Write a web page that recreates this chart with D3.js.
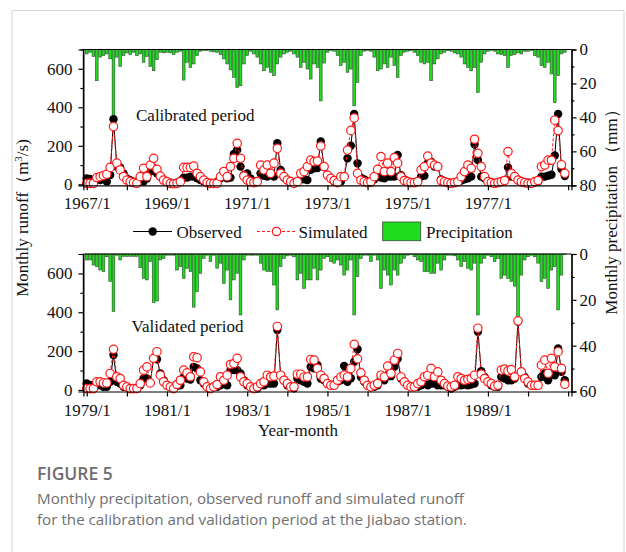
<!DOCTYPE html>
<html>
<head>
<meta charset="utf-8">
<script src="https://cdn.jsdelivr.net/npm/d3@7"></script>
<style>
body{margin:0;background:#fff;}
svg{display:block;}
</style>
</head>
<body>
<script>
// month index 0 = Jan of first year, 144 months per panel
var xLabels1 = ["1967/1","1969/1","1971/1","1973/1","1975/1","1977/1"];
var xLabels2 = ["1979/1","1981/1","1983/1","1985/1","1987/1","1989/1"];

var precip1 = [2.6,1.6,4,18.4,4.5,3.6,2.6,5.5,40,4.5,10,3.6,
  2,3,1.6,3.6,2.6,7.5,4,10,12.5,6,1.6,2,
  1.6,2,3,1.6,1,18,7.5,10.5,8.5,3.6,1,0.6,
  0.6,1,1.4,1.6,3,5.5,8.5,12,16.4,22.4,21.4,8.5,
  3.6,1,2.6,4.5,8.5,12.5,10.5,13.4,15.4,8.5,4.5,2.6,
  1.6,1,2.6,4.5,10.5,7.5,11.5,17.4,8.5,10.5,30.3,8,
  1.6,0.6,1,3.6,9.5,7.5,13.4,11.5,33.2,19.4,3.6,1,
  0.6,1,4.5,12.5,11.5,8.5,10.5,4.5,9.5,16.4,3.6,1.6,
  1,0.6,1.6,3.6,7.5,8.5,7.5,18.4,8.5,5.5,2.6,1.6,
  0.6,1,2,2.6,4.5,8.5,10.5,12.5,10.5,25.3,7.5,2.6,
  1,0.6,1,2.6,3,3.6,10.5,3.6,3,2,2.6,1,
  1,0.6,3.6,4.5,9.5,10.5,7.5,14.4,31.3,15.4,2.6,1.6];

var obs1 = [31,28,14,31,22,31,14,48,338,92,88,57,
  31,22,14,9,30,15,30,66,83,57,40,22,
  14,9,5,9,19,35,35,40,40,31,22,14,
  9,5,5,12,31,40,31,35,158,178,92,48,
  57,31,14,14,57,45,40,57,40,213,75,35,
  22,14,9,14,26,26,22,75,83,85,222,90,
  48,31,14,9,14,40,135,200,365,109,35,26,
  14,9,26,48,35,31,40,40,40,152,48,26,
  14,9,9,14,40,45,109,118,92,92,26,14,
  9,5,9,14,20,26,31,40,208,126,40,31,
  14,9,5,9,14,20,88,40,40,22,14,9,
  9,5,9,14,40,40,45,50,150,365,80,43];

var sim1 = [5,5,5,35,40,45,52,88,300,110,75,40,
  22,14,9,5,40,83,40,100,135,78,43,22,
  14,5,3,5,14,88,88,88,95,57,40,22,
  9,5,5,5,40,66,40,92,135,213,135,43,
  22,14,9,14,100,75,100,57,110,187,57,40,
  22,14,5,14,57,66,92,126,118,121,199,92,
  48,31,20,9,40,40,178,280,345,57,22,14,
  9,14,40,78,144,66,110,66,139,110,40,20,
  14,9,9,14,75,92,147,110,100,92,20,14,
  9,5,9,14,40,66,100,83,234,161,92,40,
  14,9,5,9,14,20,170,57,40,22,14,9,
  5,5,14,20,92,100,126,125,333,279,102,57];

var precip2 = [2.6,2.6,4.8,5.5,7,7.7,1.2,12,25.1,0.5,2.6,1,
  1,1,1,1,6,10.6,11.3,3.3,21.2,20.5,2.6,1.9,
  0.5,0.5,0.5,7,5.5,10.6,6.2,7.7,23.2,16.4,8.4,1.9,
  0.5,3.3,0.5,6.2,4,12.8,7,20,11.3,8.4,26.6,2.6,
  0.5,0.5,0.5,0.5,4,7,7.7,7.7,13.5,24.4,5.5,1.9,
  0.8,0.5,1.2,11.3,8.4,15,11.3,11.3,6.2,11.3,7,1.9,
  1.2,3.3,4,2.6,4.8,9.2,7,2.6,26.6,9.9,1.9,0.5,
  0.5,3.3,0.5,2.6,15,7,9.2,13.5,7,9.2,4,1.9,
  0.5,0.3,1.2,2.6,3.3,7.7,7.7,8.4,8.4,4,7,2.6,
  0.5,0.5,0.8,2.6,5.5,3.3,6.2,7,4,26.6,4,1.9,
  0.5,1.2,3.3,1.9,10.6,9.2,10.6,12,14,27.3,9.2,2.6,
  1.2,0.5,1.2,4,12,10.6,15,7,5.5,24.4,9.2,0.3];

var obs2 = [33,24,24,24,24,16,16,42,180,42,33,16,
  16,7,7,7,24,59,59,36,163,158,85,50,
  24,16,7,21,24,67,59,54,119,111,50,33,
  16,7,16,16,24,33,24,102,102,102,85,50,
  24,16,7,7,24,24,33,33,33,309,76,50,
  24,16,9,59,50,42,33,119,111,128,59,50,
  33,24,24,42,50,123,42,60,145,210,67,42,
  24,16,16,24,59,50,76,71,119,160,59,42,
  24,16,16,16,24,33,24,33,33,24,24,24,
  16,7,16,24,24,28,24,28,33,300,97,67,
  42,24,16,16,67,59,50,50,59,352,93,67,
  33,24,21,24,67,85,50,85,76,214,93,50];

var sim2 = [7,7,7,42,42,36,36,85,209,68,59,24,
  16,7,7,7,33,102,119,36,163,197,76,42,
  24,16,7,28,50,102,88,68,171,166,93,42,
  16,7,16,28,68,50,76,131,136,163,68,42,
  33,16,7,16,33,42,76,68,71,327,76,50,
  33,16,16,81,81,67,67,157,154,111,76,59,
  33,24,24,50,67,76,67,111,235,160,88,50,
  24,16,24,33,76,67,123,85,154,188,67,42,
  24,16,16,33,42,68,76,111,68,93,50,33,
  20,16,24,68,59,50,55,59,76,318,81,59,
  42,33,20,24,102,107,98,105,68,356,93,59,
  42,24,24,24,128,154,85,163,119,197,111,29];

var width = 626, height = 552;
var serif = "'Liberation Serif','Times New Roman',serif";
var barFill = "#1fdc1f", barStroke = "#2b4a2b", simRed = "#ff1a1a";

var svg = d3.select("body").append("svg")
    .attr("width", width)
    .attr("height", height);

// page frame
svg.append("path")
    .attr("d", "M12,560 L12,10.5 L624,10.5 L624,560")
    .attr("fill", "none")
    .attr("stroke", "#d4d4d4")
    .attr("stroke-width", 1);

var xScale = d3.scaleLinear().domain([-1, 145]).range([83.4, 571.5]);

var panels = [
  {top: 49.5, bottom: 185.3, runMin: -5, pMax: 80, pMajor: [0,20,40,60,80], pMinor: [10,30,50,70],
   labels: xLabels1, precip: precip1, obs: obs1, sim: sim1,
   title: "Calibrated period", tx: 136, ty: 120.7},
  {top: 254, bottom: 391.5, runMin: -8, pMax: 60, pMajor: [0,20,40,60], pMinor: [10,30,50],
   labels: xLabels2, precip: precip2, obs: obs2, sim: sim2,
   title: "Validated period", tx: 131.5, ty: 331.7}
];

function styleAxis(g) {
  g.selectAll("path").attr("stroke", "#000").attr("stroke-width", 1.2);
  g.selectAll("line").attr("stroke", "#000").attr("stroke-width", 1.2);
  g.selectAll("text").attr("font-family", serif).attr("font-size", 17).attr("fill", "#111");
}

panels.forEach(function(p) {
  var yRun = d3.scaleLinear().domain([p.runMin, 700]).range([p.bottom, p.top]);
  var yPre = d3.scaleLinear().domain([0, p.pMax]).range([p.top, p.bottom]);
  var g = svg.append("g");

  // precipitation bars hanging from the top
  g.selectAll("rect.bar")
    .data(p.precip)
    .enter()
    .append("rect")
    .attr("class", "bar")
    .attr("x", function(d, i) { return xScale(i) - 1.35; })
    .attr("y", p.top)
    .attr("width", 2.7)
    .attr("height", function(d) { return Math.max(yPre(d) - p.top, 0.6); })
    .attr("fill", barFill)
    .attr("stroke", barStroke)
    .attr("stroke-width", 0.6);

  // observed
  var line = d3.line()
    .x(function(d, i) { return xScale(i); })
    .y(function(d) { return yRun(d); });
  g.append("path").datum(p.obs)
    .attr("d", line)
    .attr("fill", "none")
    .attr("stroke", "#000")
    .attr("stroke-width", 1);
  g.selectAll("circle.obs")
    .data(p.obs)
    .enter()
    .append("circle")
    .attr("class", "obs")
    .attr("cx", function(d, i) { return xScale(i); })
    .attr("cy", function(d) { return yRun(d); })
    .attr("r", 4.2)
    .attr("fill", "#000");

  // simulated
  g.append("path").datum(p.sim)
    .attr("d", line)
    .attr("fill", "none")
    .attr("stroke", simRed)
    .attr("stroke-width", 1)
    .attr("stroke-dasharray", "3,2");
  g.selectAll("circle.sim")
    .data(p.sim)
    .enter()
    .append("circle")
    .attr("class", "sim")
    .attr("cx", function(d, i) { return xScale(i); })
    .attr("cy", function(d) { return yRun(d); })
    .attr("r", 4.2)
    .attr("fill", "#fff")
    .attr("stroke", simRed)
    .attr("stroke-width", 1.2);

  // frame top
  g.append("line")
    .attr("x1", xScale(-1)).attr("x2", xScale(145))
    .attr("y1", p.top).attr("y2", p.top)
    .attr("stroke", "#000").attr("stroke-width", 1.2);

  // left axis
  var left = g.append("g").attr("transform", "translate(" + xScale(-1) + ",0)");
  left.call(d3.axisLeft(yRun).tickValues([100,300,500,700]).tickSize(3).tickFormat(""));
  left.call(function(s) {
    s.append("g").call(d3.axisLeft(yRun).tickValues([0,200,400,600]).tickSize(5).tickPadding(6));
  });
  left.select("path.domain").attr("d", "M0," + p.top + "V" + p.bottom);
  styleAxis(left);

  // right axis
  var right = g.append("g").attr("transform", "translate(" + xScale(145) + ",0)");
  right.call(d3.axisRight(yPre).tickValues(p.pMinor).tickSize(3).tickFormat(""));
  right.call(function(s) {
    s.append("g").call(d3.axisRight(yPre).tickValues(p.pMajor).tickSize(5).tickPadding(3));
  });
  styleAxis(right);

  // bottom axis
  var bottom = g.append("g").attr("transform", "translate(0," + p.bottom + ")");
  bottom.call(d3.axisBottom(xScale)
    .tickValues(d3.range(0, 145, 12))
    .tickSize(5)
    .tickPadding(7)
    .tickFormat(function(i) { return (i % 24 === 0 && i < 144) ? p.labels[i / 24] : ""; }));
  styleAxis(bottom);

  g.append("text")
    .attr("x", p.tx).attr("y", p.ty)
    .attr("font-family", serif).attr("font-size", 17)
    .attr("fill", "#111")
    .text(p.title);
});

// legend
var lg = svg.append("g").attr("font-family", serif).attr("font-size", 17).attr("fill", "#111");
lg.append("line").attr("x1", 133).attr("x2", 172).attr("y1", 231.5).attr("y2", 231.5)
  .attr("stroke", "#000").attr("stroke-width", 1);
lg.append("circle").attr("cx", 152.7).attr("cy", 231.5).attr("r", 4.2).attr("fill", "#000");
lg.append("text").attr("x", 176.5).attr("y", 237.5).text("Observed");
lg.append("line").attr("x1", 257).attr("x2", 295).attr("y1", 231.5).attr("y2", 231.5)
  .attr("stroke", simRed).attr("stroke-width", 1).attr("stroke-dasharray", "3,2");
lg.append("circle").attr("cx", 276.5).attr("cy", 231.5).attr("r", 4.2)
  .attr("fill", "#fff").attr("stroke", simRed).attr("stroke-width", 1.2);
lg.append("text").attr("x", 298.5).attr("y", 237.5).text("Simulated");
lg.append("rect").attr("x", 382.7).attr("y", 222).attr("width", 38).attr("height", 18.7)
  .attr("fill", barFill).attr("stroke", barStroke).attr("stroke-width", 0.8);
lg.append("text").attr("x", 426).attr("y", 237.5).text("Precipitation");

// axis titles
var yl = svg.append("text")
  .attr("transform", "translate(28,218) rotate(-90)")
  .attr("text-anchor", "middle")
  .attr("font-family", serif).attr("font-size", 17).attr("fill", "#111");
yl.append("tspan").text("Monthly runoff（m");
yl.append("tspan").attr("dy", -6).attr("font-size", 11).text("3");
yl.append("tspan").attr("dy", 6).text("/s)");

svg.append("text")
  .attr("transform", "translate(617,208) rotate(-90)")
  .attr("text-anchor", "middle")
  .attr("font-family", serif).attr("font-size", 17).attr("fill", "#111")
  .text("Monthly precipitation （mm）");

svg.append("text")
  .attr("x", 298).attr("y", 436)
  .attr("text-anchor", "middle")
  .attr("font-family", serif).attr("font-size", 17).attr("fill", "#111")
  .text("Year-month");

// caption
var sans = "'Open Sans','Lato',sans-serif";
svg.append("text")
  .attr("x", 37).attr("y", 480)
  .attr("font-family", sans).attr("font-size", 17.5).attr("font-weight", 600)
  .attr("fill", "#6e6e6e")
  .text("FIGURE 5");
svg.append("text")
  .attr("x", 37).attr("y", 504)
  .attr("font-family", sans).attr("font-size", 15.2)
  .attr("fill", "#707070")
  .text("Monthly precipitation, observed runoff and simulated runoff");
svg.append("text")
  .attr("x", 37).attr("y", 525)
  .attr("font-family", sans).attr("font-size", 15.2)
  .attr("fill", "#707070")
  .text("for the calibration and validation period at the Jiabao station.");
</script>
</body>
</html>
